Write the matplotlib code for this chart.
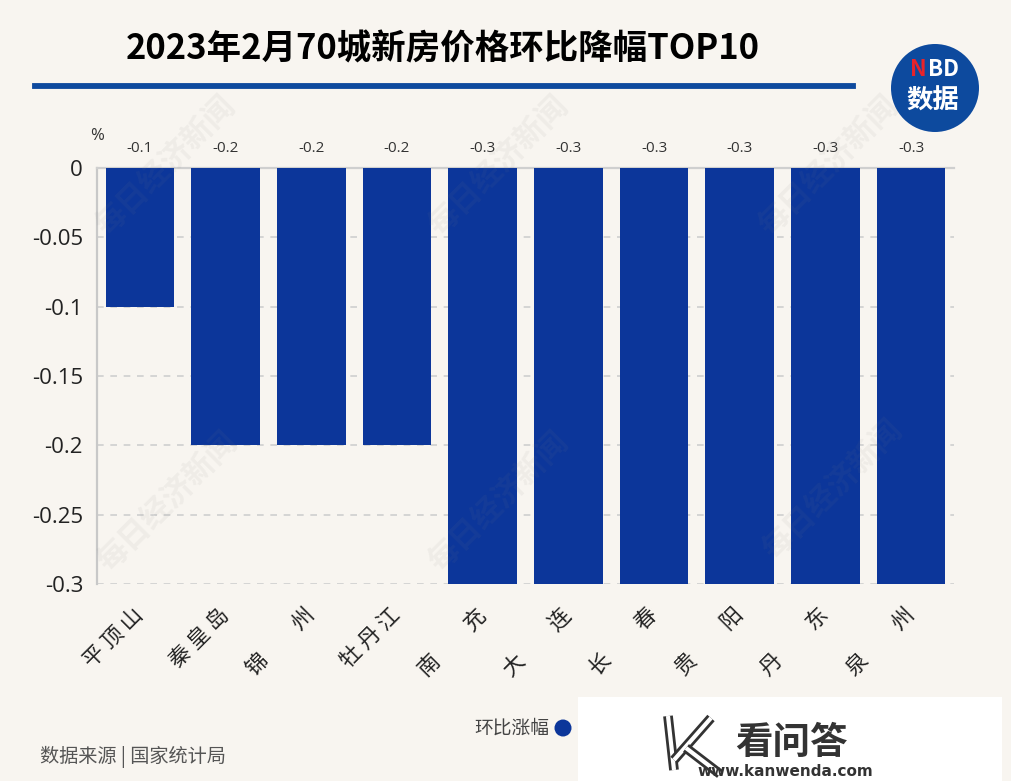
import matplotlib
matplotlib.use("Agg")
import matplotlib.pyplot as plt
import matplotlib.patheffects as pe
from matplotlib.patches import Ellipse, Rectangle
import numpy as np

plt.rcParams['font.family'] = ['Open Sans', 'Noto Sans CJK SC', 'DejaVu Sans']

# ---- data ----
cities = ["平 顶 山", "秦 皇 岛", "锦\u3000\u3000州", "牡 丹 江", "南\u3000\u3000充",
          "大\u3000\u3000连", "长\u3000\u3000春", "贵\u3000\u3000阳", "丹\u3000\u3000东", "泉\u3000\u3000州"]
values = [-0.1, -0.2, -0.2, -0.2, -0.3, -0.3, -0.3, -0.3, -0.3, -0.3]
yticks = [0, -0.05, -0.1, -0.15, -0.2, -0.25, -0.3]
ytick_labels = ["0", "-0.05", "-0.1", "-0.15", "-0.2", "-0.25", "-0.3"]
title = "2023年2月70城新房价格环比降幅TOP10"
legend_label = "环比涨幅"
source = "数据来源 | 国家统计局"

W, H = 1012, 781
BG = "#F8F5F0"
BAR = "#0C369A"
CJK = ['Noto Sans CJK SC', 'DejaVu Sans']

fig = plt.figure(figsize=(W / 100, H / 100), dpi=100, facecolor=BG)


def fx(x):
    return x / W


def fy(y):
    return 1 - y / H


def circle(cx, cy, r, color, z=5):
    fig.add_artist(Ellipse((fx(cx), fy(cy)), 2 * r / W, 2 * r / H,
                           transform=fig.transFigure, facecolor=color,
                           edgecolor='none', zorder=z))


ax = fig.add_axes([fx(97), fy(584), (954 - 97) / W, (584 - 168) / H])
ax.set_facecolor(BG)
x = np.arange(len(cities))
ax.bar(x, values, width=0.8, color=BAR, zorder=3)
ax.set_xlim(-0.5, len(cities) - 0.5)
ax.set_ylim(-0.3, 0)

ax.set_yticks(yticks)
ax.set_yticklabels(ytick_labels, fontsize=16, color="#222222")
ax.tick_params(axis='y', length=0, pad=10)
for t in yticks[1:]:
    ax.axhline(t, color="#CFCFCF", lw=1.2, ls=(0, (4, 4)), zorder=1)

ax.set_xticks(x)
ax.set_xticklabels(cities, rotation=45, ha='right', va='center',
                   rotation_mode='anchor', fontsize=15.5, family=CJK, color="#222222")
ax.tick_params(axis='x', length=0, pad=20)

for s in ['right', 'bottom']:
    ax.spines[s].set_visible(False)
ax.spines['left'].set_color("#C8C8C8")
ax.spines['left'].set_linewidth(1.6)
ax.spines['top'].set_color("#CFCFCF")
ax.spines['top'].set_linewidth(1.6)

for xi, v in zip(x, values):
    ax.annotate(f"{v:g}", (xi, 0), xytext=(0, 9), textcoords='offset points',
                ha='center', va='bottom', fontsize=11, color="#333333")

fig.text(fx(97), fy(136), "%", ha='center', va='center', fontsize=12, color="#333333")

# title and underline
fig.text(fx(443), fy(49), title, ha='center', va='center', fontsize=24.8,
         fontweight='bold', family=CJK, color="#000000")
fig.add_artist(plt.Line2D([fx(35), fx(853)], [fy(86), fy(86)], color="#0E4A9E", lw=4.2))

# NBD logo
circle(935, 88, 44, "#0D4A9E")
fig.text(fx(918), fy(70), "N", ha='center', va='center', fontsize=16,
         fontweight='bold', color="#E8232A", family=CJK, zorder=6)
fig.text(fx(944), fy(70), "BD", ha='center', va='center', fontsize=16,
         fontweight='bold', color="white", family=CJK, zorder=6)
fig.text(fx(933), fy(101), "数据", ha='center', va='center', fontsize=19,
         fontweight='bold', color="white", family=CJK, zorder=6)

# watermark
for cx, cy in [(165, 166), (498, 166), (828, 166), (167, 502), (498, 502), (832, 490)]:
    fig.text(fx(cx), fy(cy), "每日经济新闻", ha='center', va='center', rotation=45,
             fontsize=22, fontweight='bold', family=CJK, color="#808080", alpha=0.08,
             zorder=10)

# legend
fig.text(fx(549), fy(728), legend_label, ha='right', va='center', fontsize=13.5,
         family=CJK, color="#444444")
circle(563, 728, 8.5, BAR)

# source
fig.text(fx(40), fy(757), source, ha='left', va='center', fontsize=13.8,
         family=CJK, color="#555555")

# kanwenda box
fig.add_artist(Rectangle((fx(578), fy(781)), (1002 - 578) / W, (781 - 697) / H,
                         transform=fig.transFigure, facecolor='white', edgecolor='none',
                         zorder=20))
kpe = [pe.Stroke(linewidth=7, foreground="#333333"), pe.Stroke(linewidth=3, foreground="white")]
for (x0, y0), (x1, y1) in [((668, 716), (674, 770)), ((674, 760), (711, 718)),
                             ((686, 748), (720, 774))]:
    ln = plt.Line2D([fx(x0), fx(x1)], [fy(y0), fy(y1)], color="white", lw=3,
                    solid_capstyle='butt', zorder=21)
    ln.set_path_effects(kpe)
    fig.add_artist(ln)
fig.text(fx(791), fy(742), "看问答", ha='center', va='center', fontsize=27,
         fontweight='bold', family=CJK, color="#333333", zorder=22)
fig.text(fx(785), fy(771), "www.kanwenda.com", ha='center', va='center', fontsize=11,
         fontweight='bold', family=['DejaVu Sans'], color="#333333", zorder=22)

fig.savefig("out.png", dpi=100, facecolor=BG)
